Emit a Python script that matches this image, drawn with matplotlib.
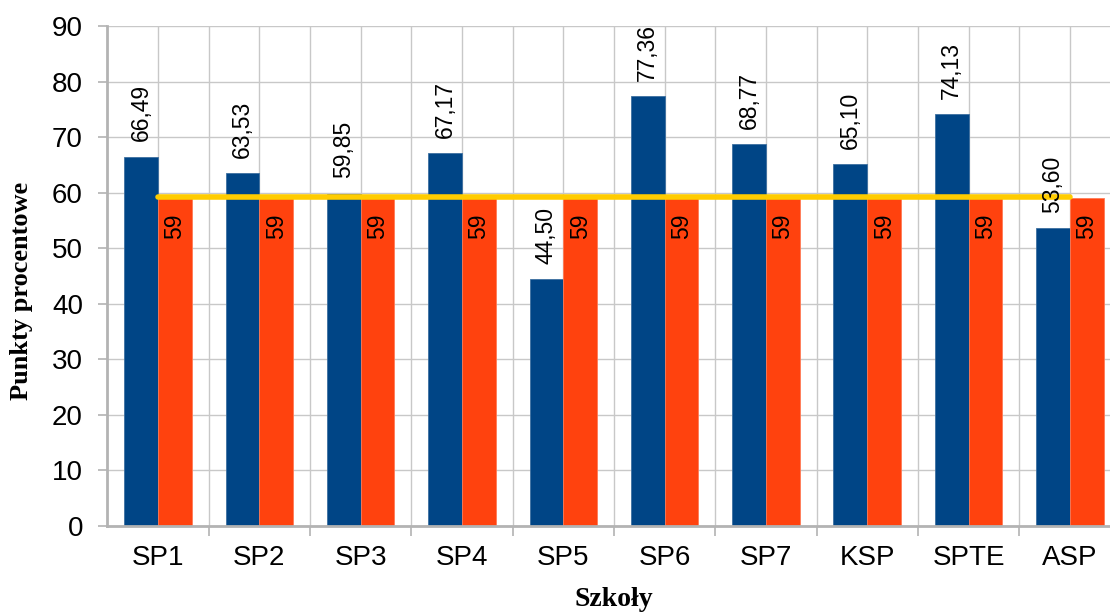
import numpy as np
import matplotlib.pyplot as plt

szkoly = ['SP1', 'SP2', 'SP3', 'SP4', 'SP5', 'SP6', 'SP7', 'KSP', 'SPTE', 'ASP']
wyniki = [66.49, 63.53, 59.85, 67.17, 44.50, 77.36, 68.77, 65.10, 74.13, 53.60]
srednia = [59, 59, 59, 59, 59, 59, 59, 59, 59, 59]
linia = [59.3] * 10

plt.rcParams['font.family'] = ['Liberation Sans', 'DejaVu Sans']

fig = plt.figure(figsize=(11.1, 6.14), dpi=100)
# the plot area runs past the right edge, as in the source picture
ax = fig.add_axes([107.3 / 1110, 88 / 614, 1013.3 / 1110, 500 / 614])

x = np.arange(len(szkoly))
w = 1 / 3
b1 = ax.bar(x - w / 2, wyniki, w, color='#004586', edgecolor='#3d6fa0', linewidth=0.6, zorder=3)
b2 = ax.bar(x + w / 2, srednia, w, color='#ff420e', edgecolor='#ff7a55', linewidth=0.6, zorder=3)
ax.plot(x, linia, color='#ffcc00', linewidth=4, solid_capstyle='round', zorder=4)

for r, v in zip(b1, wyniki):
    ax.annotate(f'{v:.2f}'.replace('.', ','), (r.get_x() + r.get_width() / 2, v),
                xytext=(0, 11), textcoords='offset points', rotation=90,
                ha='center', va='bottom', fontsize=16.5, zorder=5)
for r, v in zip(b2, srednia):
    ax.annotate(f'{v}', (r.get_x() + r.get_width() / 2, v),
                xytext=(0, -11), textcoords='offset points', rotation=90,
                ha='center', va='top', fontsize=16.5, zorder=5)

ax.set_xlim(-0.5, len(szkoly) - 0.5)
ax.set_ylim(0, 90)
ax.set_yticks(range(0, 91, 10))
ax.set_xticks(x)
ax.set_xticklabels(szkoly)
ax.set_xticks(x[:-1] + 0.5, minor=True)
ax.tick_params(axis='x', which='major', length=0, pad=14, labelsize=20)
ax.tick_params(axis='x', which='minor', length=7, color='#b3b3b3', width=1.2)
ax.tick_params(axis='y', length=6.5, color='#b3b3b3', width=1.2, labelsize=20, pad=11)

ax.grid(True, which='both', color='#c8c8c8', linewidth=1, zorder=0)
for s in ['top', 'right']:
    ax.spines[s].set_visible(False)
for s in ['left', 'bottom']:
    ax.spines[s].set_color('#b3b3b3')
    ax.spines[s].set_linewidth(2)
    ax.spines[s].set_zorder(6)

fig.text(22 / 1110, 1 - 291 / 614, 'Punkty procentowe', rotation=90, ha='center', va='center',
         fontsize=19, fontweight='bold', family='Liberation Serif')
fig.text(614 / 1110, 1 - 600 / 614, 'Szkoły', ha='center', va='center',
         fontsize=20, fontweight='bold', family='Liberation Serif')

fig.savefig('out.png', dpi=100)
